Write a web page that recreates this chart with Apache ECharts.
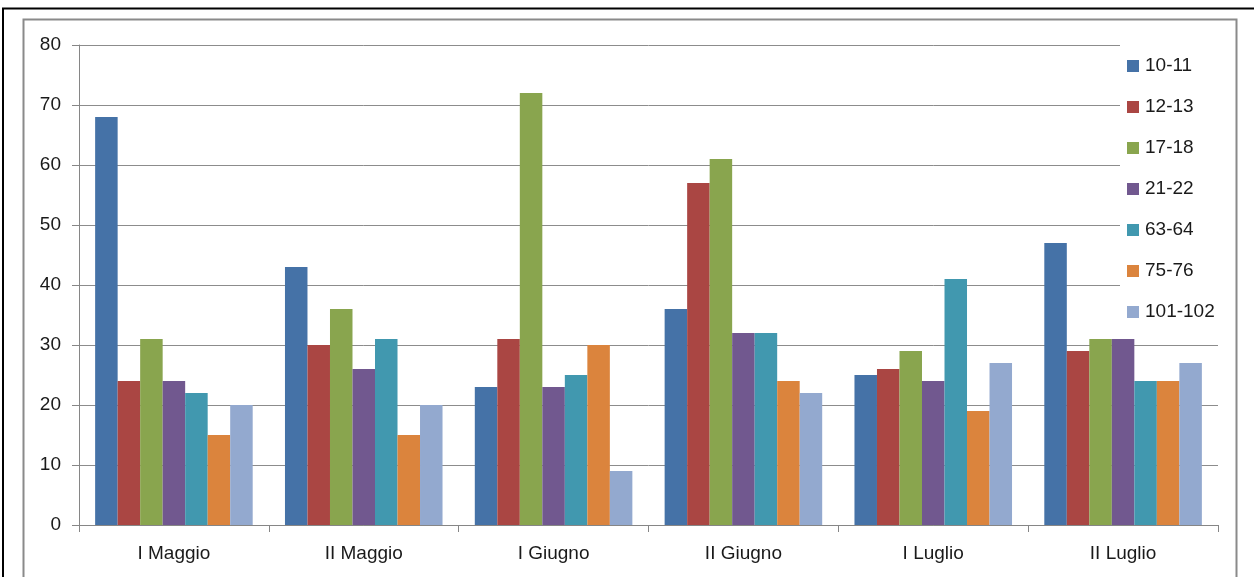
<!DOCTYPE html>
<html>
<head>
<meta charset="utf-8">
<script src="https://cdn.jsdelivr.net/npm/echarts@6/dist/echarts.min.js"></script>
<style>
  html, body { margin: 0; padding: 0; background: #fff; }
  #chart { width: 1254px; height: 577px; }
</style>
</head>
<body>
<div id="chart"></div>
<script>
// Periods on the category axis
const periods = ['I Maggio', 'II Maggio', 'I Giugno', 'II Giugno', 'I Luglio', 'II Luglio'];

// One series per pair, values per period
const s10_11   = [68, 43, 23, 36, 25, 47];
const s12_13   = [24, 30, 31, 57, 26, 29];
const s17_18   = [31, 36, 72, 61, 29, 31];
const s21_22   = [24, 26, 23, 32, 24, 31];
const s63_64   = [22, 31, 25, 32, 41, 24];
const s75_76   = [15, 15, 30, 24, 19, 24];
const s101_102 = [20, 20, 9, 22, 27, 27];

const seriesNames = ['10-11', '12-13', '17-18', '21-22', '63-64', '75-76', '101-102'];
const seriesValues = [s10_11, s12_13, s17_18, s21_22, s63_64, s75_76, s101_102];
const palette = ['#4572A7', '#AA4643', '#89A54E', '#71588F', '#4198AF', '#DB843D', '#93A9CF'];

const yTicks = { min: 0, max: 80, step: 10 };

const font = '"Liberation Sans", Arial, sans-serif';
const chart = echarts.init(document.getElementById('chart'), null, { renderer: 'canvas' });

chart.setOption({
  animation: false,
  backgroundColor: '#ffffff',
  color: palette,
  textStyle: { fontFamily: font },
  grid: { left: 79, right: 36, top: 45, bottom: 52, containLabel: false },
  graphic: [
    {
      type: 'rect', z: -10, silent: true,
      shape: { x: 3, y: 8.5, width: 1300, height: 620 },
      style: { fill: 'none', stroke: '#000000', lineWidth: 2 }
    },
    {
      type: 'rect', z: -10, silent: true,
      shape: { x: 23.5, y: 19.5, width: 1213, height: 620 },
      style: { fill: 'none', stroke: '#8a8a8a', lineWidth: 2 }
    }
  ],
  legend: {
    orient: 'vertical',
    left: 1120,
    top: 42,
    padding: [14, 20, 10, 7],
    backgroundColor: '#ffffff',
    itemWidth: 12,
    itemHeight: 12,
    itemGap: 21,
    itemStyle: { borderWidth: 0 },
    icon: 'rect',
    textStyle: { fontFamily: font, fontSize: 19, color: '#1a1a1a', lineHeight: 20, padding: [0, 0, 0, 1] },
    data: seriesNames
  },
  xAxis: {
    type: 'category',
    data: periods,
    axisLine: { lineStyle: { color: '#868686', width: 1 } },
    axisTick: { show: true, length: 7, lineStyle: { color: '#868686' } },
    axisLabel: { fontFamily: font, fontSize: 19, color: '#1a1a1a', margin: 19 },
    splitLine: { show: false }
  },
  yAxis: {
    type: 'value',
    min: yTicks.min,
    max: yTicks.max,
    interval: yTicks.step,
    axisLine: { show: true, lineStyle: { color: '#868686', width: 1 } },
    axisTick: { show: true, length: 7, lineStyle: { color: '#868686' } },
    axisLabel: { fontFamily: font, fontSize: 19, color: '#1a1a1a', margin: 18 },
    splitLine: { show: true, lineStyle: { color: '#8c8c8c', width: 1 } }
  },
  series: seriesNames.map((name, i) => ({
    name: name,
    type: 'bar',
    data: seriesValues[i],
    barGap: '0%',
    barCategoryGap: '17%',
    itemStyle: { color: palette[i] }
  }))
});
</script>
</body>
</html>
